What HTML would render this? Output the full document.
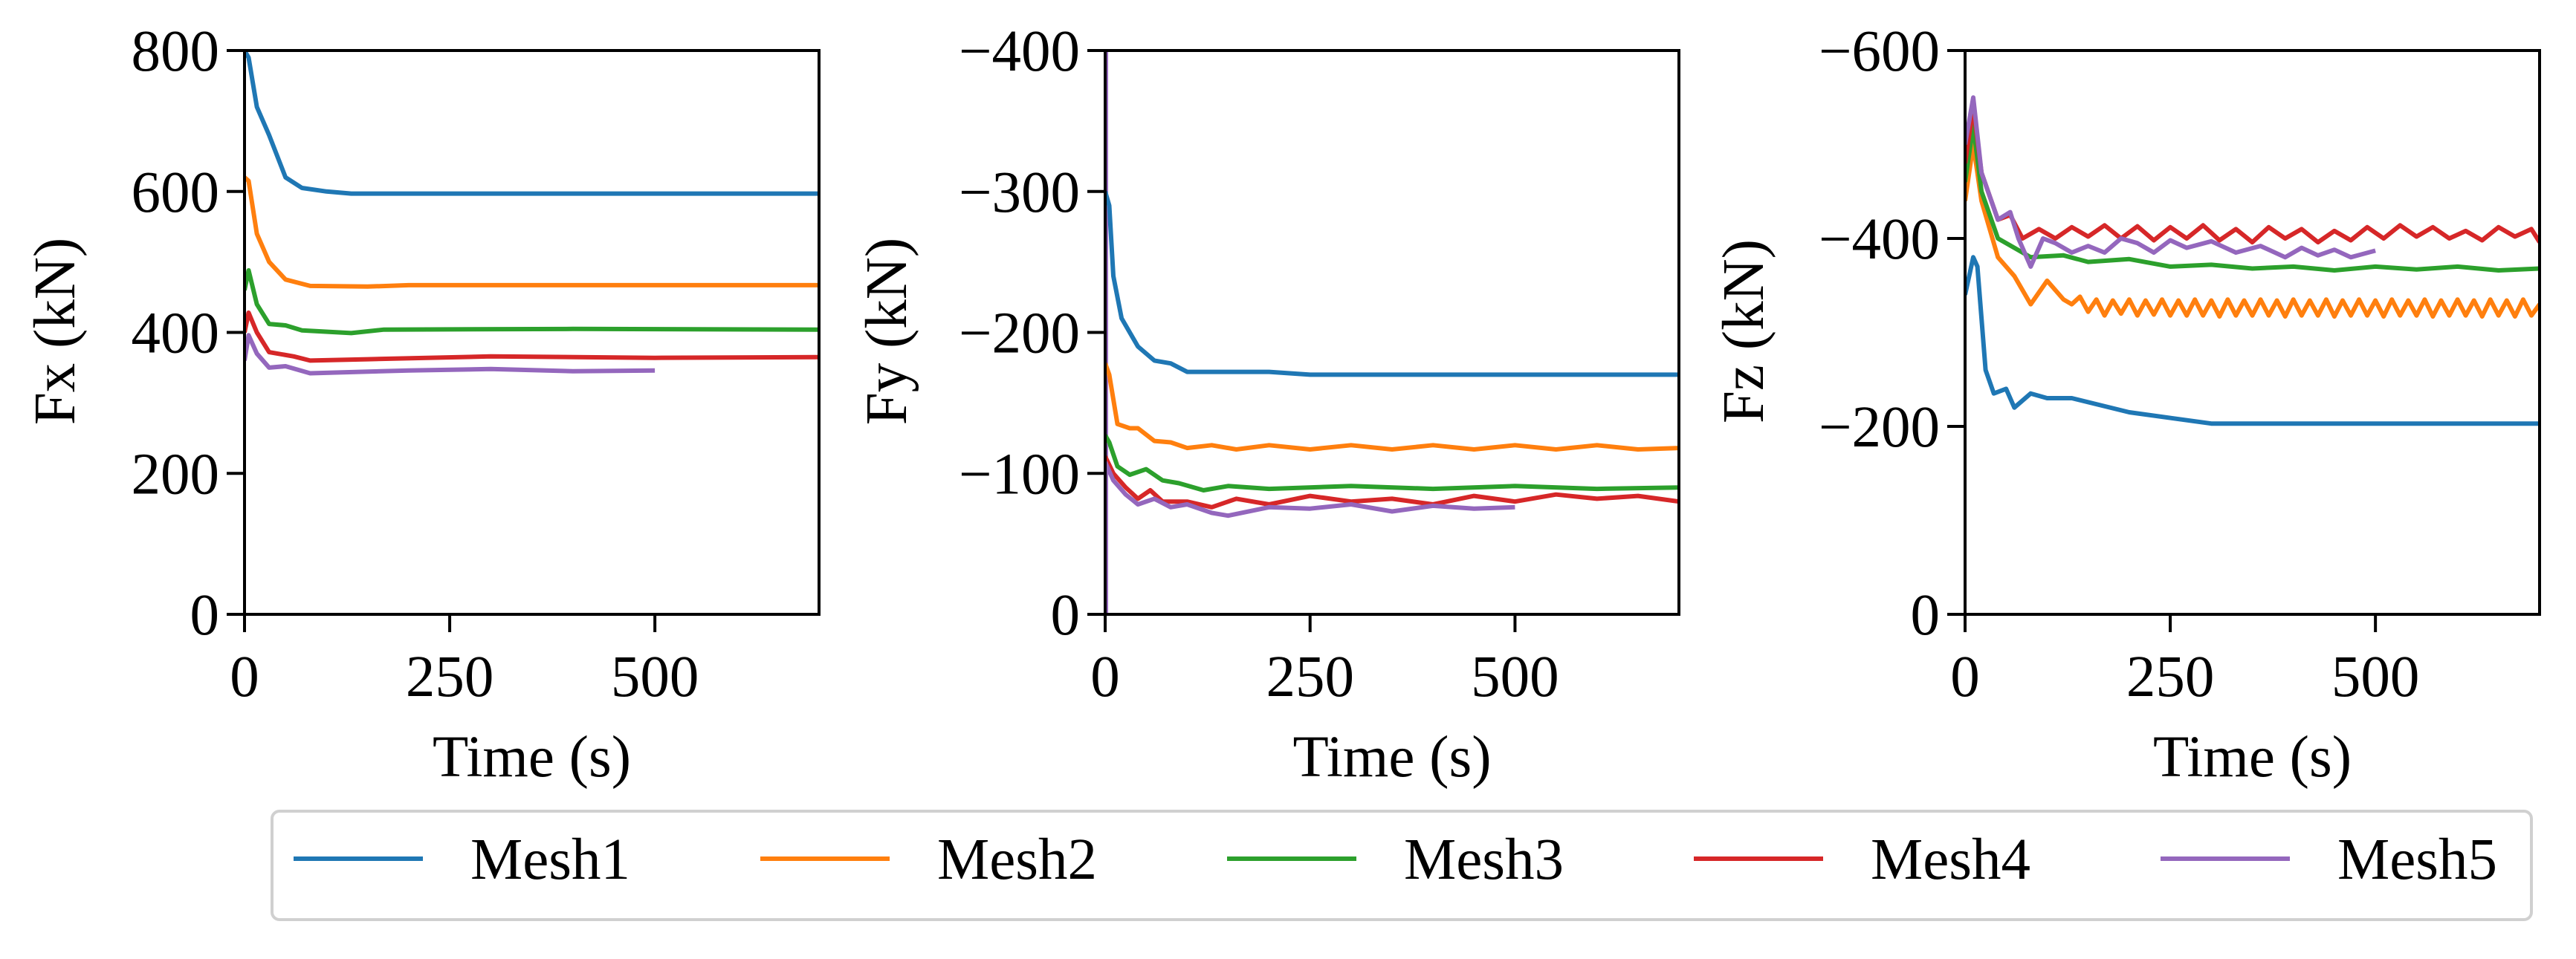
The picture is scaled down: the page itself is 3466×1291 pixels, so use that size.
<!DOCTYPE html>
<html><head><meta charset="utf-8"><style>
html,body{margin:0;padding:0;background:#fff;}
svg{display:block;font-family:"Liberation Serif",serif;}
</style></head>
<body>
<svg id="chart" width="3466" height="1291" viewBox="0 0 3466 1291" xmlns="http://www.w3.org/2000/svg">
<rect x="0" y="0" width="3466" height="1291" fill="#fff"/>
<g id="legend">
<rect x="366" y="1092" width="3040" height="146" rx="10" fill="#fff" stroke="#d0d0d0" stroke-width="4"/>
</g>
</svg>
<script>
const seriesNames=["Mesh1","Mesh2","Mesh3","Mesh4","Mesh5"];
const colors=["#1f77b4","#ff7f0e","#2ca02c","#d62728","#9467bd"];
const xTicks=[0,250,500];
const fxTicks=[0,200,400,600,800];
const fyTicks=[0,100,200,300,400];
const fzTicks=[0,200,400,600];
const fxLabels=["0","200","400","600","800"];
const fyLabels=["0","−100","−200","−300","−400"];
const fzLabels=["0","−200","−400","−600"];
// Fx (kN) [time, value]
const fx1=[[0,800],[5,790],[15,720],[30,680],[50,620],[70,605],[100,600],[130,597],[700,597]];
const fx2=[[0,620],[5,615],[15,540],[30,500],[50,475],[80,466],[150,465],[200,467],[300,467],[700,467]];
const fx3=[[0,460],[5,488],[15,440],[30,412],[50,410],[70,403],[130,399],[170,404],[400,405],[700,404]];
const fx4=[[0,400],[5,428],[15,400],[30,372],[60,366],[80,360],[150,362],[300,366],[500,364],[700,365]];
const fx5=[[0,360],[5,396],[15,370],[30,350],[50,352],[80,342],[200,346],[300,348],[400,345],[500,346]];
// Fy magnitude (kN, axis shown negative)
const fy1=[[0,300],[5,290],[10,240],[20,210],[40,190],[60,180],[80,178],[100,172],[200,172],[250,170],[700,170]];
const fy2=[[0,178],[5,170],[15,135],[30,132],[40,132],[60,123],[80,122],[100,118],[130,120],[160,117],[200,120],[250,117],[300,120],[350,117],[400,120],[450,117],[500,120],[550,117],[600,120],[650,117],[700,118]];
const fy3=[[0,127],[5,122],[15,105],[30,99],[50,103],[70,95],[90,93],[120,88],[150,91],[200,89],[300,91],[400,89],[500,91],[600,89],[700,90]];
const fy4=[[0,112],[10,100],[25,90],[40,82],[55,88],[70,80],[100,80],[130,76],[160,82],[200,78],[250,84],[300,80],[350,82],[400,78],[450,84],[500,80],[550,85],[600,82],[650,84],[700,80]];
const fy5=[[0,108],[10,95],[25,85],[40,78],[60,82],[80,76],[100,78],[130,72],[150,70],[200,76],[250,75],[300,78],[350,73],[400,77],[450,75],[500,76]];
// Fz magnitude (kN, axis shown negative)
const fz1=[[0,340],[10,380],[15,370],[25,260],[35,235],[50,240],[60,220],[80,235],[100,230],[130,230],[200,215],[300,203],[700,203]];
const fz2=[[0,440],[10,500],[20,440],[40,380],[60,360],[80,330],[100,355],[120,335],[130,330],[140,338],[150,322],[160,335],[170,318],[180,334],[190,320],[200,335],[210,318],[220,334],[230,319],[240,335],[250,318],[260,334],[270,318],[280,335],[290,318],[300,334],[310,317],[320,335],[330,318],[340,334],[350,318],[360,335],[370,318],[380,334],[390,317],[400,335],[410,318],[420,334],[430,318],[440,335],[450,317],[460,334],[470,318],[480,335],[490,318],[500,334],[510,317],[520,335],[530,318],[540,334],[550,318],[560,335],[570,317],[580,334],[590,318],[600,335],[610,318],[620,334],[630,317],[640,335],[650,318],[660,334],[670,317],[680,335],[690,318],[700,330]];
const fz3=[[0,460],[10,520],[20,450],[40,400],[60,390],[80,380],[120,382],[150,375],[200,378],[250,370],[300,372],[350,368],[400,370],[450,366],[500,370],[550,367],[600,370],[650,366],[700,368]];
const fz4=[[0,480],[10,540],[20,470],[40,420],[55,425],[70,400],[90,410],[110,400],[130,412],[150,402],[170,414],[190,400],[210,413],[230,398],[250,412],[270,400],[290,414],[310,398],[330,410],[350,396],[370,412],[390,400],[410,410],[430,396],[450,408],[470,398],[490,412],[510,400],[530,414],[550,402],[570,412],[590,400],[610,408],[630,398],[650,412],[670,402],[690,410],[700,396]];
const fz5=[[0,500],[10,550],[20,470],[40,420],[55,428],[65,400],[80,370],[95,400],[110,395],[130,385],[150,392],[170,385],[190,400],[210,395],[230,385],[250,398],[270,390],[300,397],[330,385],[360,392],[390,380],[410,390],[430,382],[450,388],[470,380],[500,387]];

const svg=document.getElementById('chart');
const NS="http://www.w3.org/2000/svg";
function mk(tag,attrs,parent){const e=document.createElementNS(NS,tag);for(const k in attrs)e.setAttribute(k,attrs[k]);(parent||svg).appendChild(e);return e;}
const plotTop=68,plotBottom=827,xmax=700;
const panels=[
 {key:"fx",left:329,right:1102,ymax:800,ticks:fxTicks,labels:fxLabels,title:"Fx (kN)",tx:73,data:[fx1,fx2,fx3,fx4,fx5]},
 {key:"fy",left:1487,right:2259,ymax:400,ticks:fyTicks,labels:fyLabels,title:"Fy (kN)",tx:1192,data:[fy1,fy2,fy3,fy4,fy5]},
 {key:"fz",left:2644,right:3417,ymax:600,ticks:fzTicks,labels:fzLabels,title:"Fz (kN)",tx:2345,data:[fz1,fz2,fz3,fz4,fz5]}
];
panels.forEach(p=>{
 const g=mk('g',{});
 
 
 const xs=t=>p.left+(p.right-p.left)*t/xmax;
 const ys=v=>plotBottom-(plotBottom-plotTop)*v/p.ymax;
 const cp=mk('clipPath',{id:'clip-'+p.key},g);
 mk('rect',{x:p.left,y:plotTop,width:p.right-p.left,height:plotBottom-plotTop},cp);
 if(p.key==="fy"){
  const vl=mk('line',{x1:xs(0)+2,y1:ys(0),x2:xs(0)+2,y2:ys(400),stroke:colors[4],"stroke-width":4},g);
  
  
 }
 p.data.forEach((d,i)=>{
  const path=mk('path',{d:d.map((q,j)=>(j?'L':'M')+xs(q[0]).toFixed(1)+','+ys(q[1]).toFixed(1)).join(''),fill:'none',stroke:colors[i],"stroke-width":6,"stroke-linejoin":"round","clip-path":"url(#clip-"+p.key+")"},g);
  
  
 });
 const frame=mk('rect',{x:p.left,y:plotTop,width:p.right-p.left,height:plotBottom-plotTop,fill:'none',stroke:'#000',"stroke-width":4},g);
 
 
 p.ticks.forEach((v,i)=>{
  mk('line',{x1:p.left-24,y1:ys(v),x2:p.left,y2:ys(v),stroke:'#000',"stroke-width":4},g);
  const t=mk('text',{x:p.left-34,y:ys(v)+27,"text-anchor":"end","font-size":79},g);
  t.textContent=p.labels[i];
  
  
 });
 xTicks.forEach(v=>{
  mk('line',{x1:xs(v),y1:plotBottom,x2:xs(v),y2:plotBottom+24,stroke:'#000',"stroke-width":4},g);
  const t=mk('text',{x:xs(v),y:plotBottom+110,"text-anchor":"middle","font-size":79},g);
  t.textContent=String(v);
  
  
 });
 const yt=mk('text',{x:p.tx,y:446,"text-anchor":"middle","font-size":79,transform:"rotate(-90 "+p.tx+" 446) translate(0 27)"},g);
 yt.textContent=p.title;
 
 
 const xt=mk('text',{x:(p.left+p.right)/2,y:1045,"text-anchor":"middle","font-size":79},g);
 xt.textContent="Time (s)";
 
 
});
const lg=document.getElementById('legend');
seriesNames.forEach((n,i)=>{
 const x0=395+i*628;
 const e=mk('g',{},lg);
 
 
 mk('line',{x1:x0,y1:1156,x2:x0+174,y2:1156,stroke:colors[i],"stroke-width":6},e);
 const t=mk('text',{x:x0+238,y:1183,"font-size":79},e);
 t.textContent=n;
});
</script>
</body></html>
